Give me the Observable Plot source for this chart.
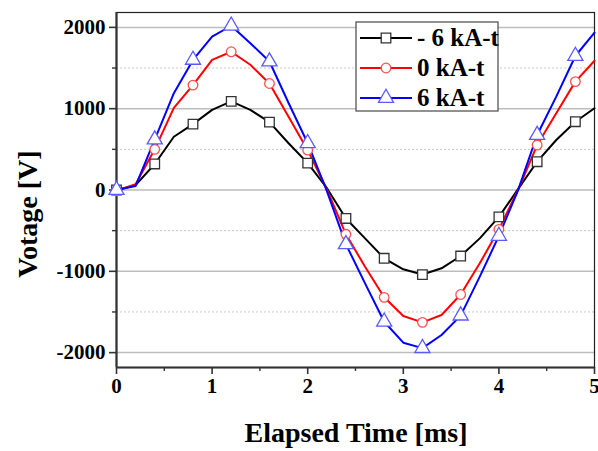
<!DOCTYPE html>
<html>
<head>
<meta charset="utf-8">
<script src="https://cdn.jsdelivr.net/npm/d3@7"></script>
<script src="https://cdn.jsdelivr.net/npm/@observablehq/plot@0.6"></script>
<style>
  body { margin: 0; background: #fff; }
  #chart { position: relative; width: 598px; height: 451px; }
  #chart svg, #chart svg text { font-family: 'Liberation Serif', 'Times New Roman', serif !important; }
</style>
</head>
<body>
<div id="chart"></div>
<script>
const time = [0, 0.2, 0.4, 0.6, 0.8, 1.0, 1.2, 1.4, 1.6, 1.8, 2.0, 2.2, 2.4, 2.6, 2.8, 3.0, 3.2, 3.4, 3.6, 3.8, 4.0, 4.2, 4.4, 4.6, 4.8, 5.0];
const seriesNames = ["- 6 kA-t", "0 kA-t", "6 kA-t"];
const neg6 = [0, 60, 320, 655, 810, 985, 1090, 985, 835, 575, 330, 25, -350, -595, -840, -975, -1040, -963, -812, -595, -330, 10, 348, 615, 840, 1005];
const zero = [-10, 70, 500, 1010, 1290, 1600, 1700, 1540, 1310, 900, 490, 10, -545, -943, -1320, -1550, -1628, -1538, -1285, -902, -484, 0, 553, 943, 1333, 1590];
const pos6 = [0, 50, 620, 1190, 1600, 1885, 2020, 1805, 1580, 1070, 575, -10, -668, -1148, -1620, -1878, -1945, -1783, -1545, -1066, -565, -5, 676, 1148, 1648, 1935];
const xTicks = [0, 1, 2, 3, 4, 5];
const xMinor = [0.5, 1.5, 2.5, 3.5, 4.5];
const yTicks = [-2000, -1000, 0, 1000, 2000];
const yMinor = [-1500, -500, 500, 1500];

const FONT = "'Liberation Serif', 'Times New Roman', serif";
const lineColors = ["#000000", "#ff0000", "#0000ff"];
const markColors = ["#333333", "#ff5050", "#5a5aff"];
const symbols = ["square", "circle", "triangle"];
const markR = [5.4, 4.8, 5.6];

const allValues = [neg6, zero, pos6];
const rows = [];
allValues.forEach((vals, si) => {
  vals.forEach((v, i) => rows.push({t: time[i], v, s: seriesNames[si], si, marker: i % 2 === 0}));
});

const marks = [
  Plot.ruleY(yMinor, {stroke: "#c8c8c8", strokeWidth: 1, strokeDasharray: "2,2"}),
  Plot.ruleY(yTicks, {stroke: "#bdbdbd", strokeWidth: 1.5}),
  Plot.axisX(xTicks, {tickSize: 7, tickPadding: 4, tickFormat: d => String(d), fontSize: 21, fontWeight: "bold", label: null, stroke: "#333", strokeWidth: 1.6, fill: "#000"}),
  Plot.axisX(xMinor, {tickSize: 4, tickFormat: () => "", label: null, stroke: "#333", strokeWidth: 1.4}),
  Plot.axisY(yTicks, {tickSize: 7, tickPadding: 4, tickFormat: d => String(d), fontSize: 21, fontWeight: "bold", label: null, stroke: "#333", strokeWidth: 1.6, fill: "#000"}),
  Plot.axisY(yMinor, {tickSize: 4, tickFormat: () => "", label: null, stroke: "#333", strokeWidth: 1.4}),
  Plot.frame({stroke: "#222", strokeWidth: 1.2}),
  Plot.ruleX([0], {stroke: "#333", strokeWidth: 2.2}),
  Plot.ruleY([-2183], {stroke: "#333", strokeWidth: 2.2}),
];
seriesNames.forEach((name, si) => {
  const d = rows.filter(r => r.si === si);
  marks.push(Plot.line(d, {x: "t", y: "v", stroke: lineColors[si], strokeWidth: 2}));
});
seriesNames.forEach((name, si) => {
  const d = rows.filter(r => r.si === si && r.marker);
  marks.push(Plot.dot(d, {x: "t", y: "v", symbol: () => symbols[si], r: markR[si], stroke: markColors[si], fill: "#fff", strokeWidth: 1.3}));
});

const chart = Plot.plot({
  width: 598,
  height: 451,
  marginLeft: 116,
  marginRight: 4,
  marginTop: 12,
  marginBottom: 84,
  x: {domain: [0, 5]},
  y: {domain: [-2183, 2183]},
  style: {fontFamily: FONT, background: "#fff", overflow: "visible"},
  marks
});
document.getElementById("chart").appendChild(chart);

// axis titles and legend
const svg = d3.select(chart);
svg.append("text")
  .attr("x", 356).attr("y", 442)
  .attr("text-anchor", "middle")
  .attr("font-size", 28).attr("font-weight", "bold")
  .style("font-family", FONT)
  .text("Elapsed Time [ms]");
svg.append("text")
  .attr("transform", "translate(37,214) rotate(-90)")
  .attr("text-anchor", "middle")
  .attr("font-size", 28).attr("font-weight", "bold")
  .style("font-family", FONT)
  .text("Votage [V]");

const lg = svg.append("g");
lg.append("rect").attr("x", 356).attr("y", 22).attr("width", 142).attr("height", 89)
  .attr("fill", "#fff").attr("stroke", "#555").attr("stroke-width", 1.3);
seriesNames.forEach((name, si) => {
  const cy = 38 + si * 30;
  lg.append("line").attr("x1", 360).attr("x2", 412).attr("y1", cy).attr("y2", cy)
    .attr("stroke", lineColors[si]).attr("stroke-width", 2);
  const sym = d3.symbol().type([d3.symbolSquare, d3.symbolCircle, d3.symbolTriangle][si]).size(Math.PI * markR[si] * markR[si])();
  lg.append("path").attr("d", sym).attr("transform", `translate(386,${cy})`)
    .attr("fill", "#fff").attr("stroke", markColors[si]).attr("stroke-width", 1.3);
  lg.append("text").attr("x", 417).attr("y", cy + 8)
    .attr("text-anchor", "start")
    .attr("font-size", 25).attr("font-weight", "bold")
    .style("font-family", FONT)
    .text(name);
});
</script>
</body>
</html>
